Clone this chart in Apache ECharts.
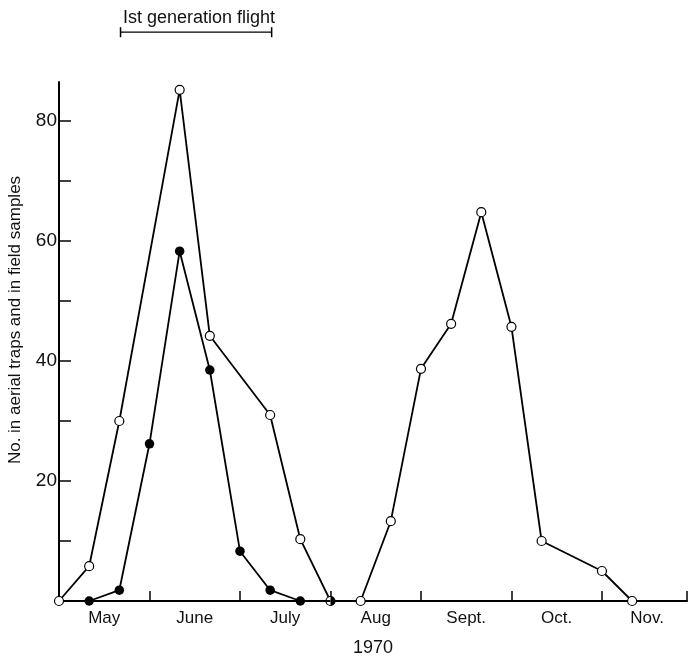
<!DOCTYPE html>
<html>
<head>
<meta charset="utf-8">
<script src="https://cdn.jsdelivr.net/npm/echarts@6/dist/echarts.min.js"></script>
<style>
html,body{margin:0;padding:0;background:#fff;}
#chart{width:688px;height:656px;}
</style>
</head>
<body>
<div id="chart"></div>
<script>
// x positions are in thirds of a month (10-day periods) counted from 1 May 1970
const monthLabels = ['May', 'June', 'July', 'Aug', 'Sept.', 'Oct.', 'Nov.'];
const aerialPeriods = [0, 1, 2, 4, 5, 7, 8, 9, 10, 11, 12, 13, 14, 15, 16, 18, 19];
const aerialValues  = [0, 5.8, 30, 85.2, 44.2, 31, 10.3, 0, 0, 13.3, 38.7, 46.2, 64.8, 45.7, 10, 5, 0];
const fieldPeriods  = [1, 2, 3, 4, 5, 6, 7, 8, 9];
const fieldValues   = [0, 1.8, 26.2, 58.3, 38.5, 8.3, 1.8, 0, 0];
const yTicks = [20, 40, 60, 80];
const flightSpan = [0.68, 2.35]; // months from 1 May
const flightLevel = 94.8;

const FONT = 'Liberation Sans';
const toMonths = p => p / 3;

const aerialData = aerialPeriods.map((p, i) => [toMonths(p), aerialValues[i]]);
const fieldData = fieldPeriods.map((p, i) => {
  const pt = [toMonths(p), fieldValues[i]];
  if (i === fieldPeriods.length - 1) {
    return {
      value: pt,
      symbol: 'path://M0,0 A10,10 0 0 1 0,20 Z',
      symbolSize: [4.6, 9.2],
      symbolOffset: [2.3, 0],
      itemStyle: { color: '#000', borderWidth: 0 }
    };
  }
  return pt;
});

const chart = echarts.init(document.getElementById('chart'), null, { renderer: 'canvas' });
chart.setOption({
  animation: false,
  backgroundColor: '#fff',
  title: {
    text: 'Ist generation flight',
    left: 118, top: 4,
    textStyle: { fontFamily: FONT, fontSize: 18, fontWeight: 'normal', color: '#111' }
  },
  graphic: [{
    type: 'text',
    x: 15, y: 320,
    rotation: Math.PI / 2,
    style: {
      text: 'No. in aerial traps and in field samples',
      fontFamily: FONT, fontSize: 17, fill: '#111',
      align: 'center', verticalAlign: 'middle'
    }
  }],
  grid: { left: 59, right: 1, top: 82, bottom: 55, outerBoundsMode: 'none', containLabel: false },
  xAxis: [{
    type: 'value', min: 0, max: 6.94, interval: 1,
    axisLine: { show: true, lineStyle: { color: '#000', width: 2 } },
    axisTick: { show: true, inside: true, length: 10, lineStyle: { color: '#000', width: 1.5 } },
    axisLabel: { show: false },
    splitLine: { show: false }
  }, {
    type: 'value', min: 0, max: 6.94, interval: 0.5, position: 'bottom',
    axisLine: { show: false }, axisTick: { show: false }, splitLine: { show: false },
    axisLabel: {
      margin: 9, fontFamily: FONT, fontSize: 17, color: '#111',
      showMaxLabel: false,
      formatter: v => {
        const r = v % 1;
        if (Math.abs(r - 0.5) < 0.01) return monthLabels[Math.floor(v)] || '';
        return '';
      }
    },
    name: '1970', nameLocation: 'middle', nameGap: 38,
    nameTextStyle: { fontFamily: FONT, fontSize: 18, color: '#111' }
  }],
  yAxis: {
    type: 'value', min: 0, max: 86.5, interval: 10,
    axisLine: { show: true, lineStyle: { color: '#000', width: 2 } },
    axisTick: { show: true, inside: true, length: 12, lineStyle: { color: '#000', width: 1.5 } },
    axisLabel: {
      margin: 2, fontFamily: FONT, fontSize: 19, color: '#111',
      showMaxLabel: false,
      formatter: v => yTicks.includes(v) ? String(v) : ''
    },
    splitLine: { show: false }
  },
  series: [{
    name: 'Aerial traps', type: 'line', data: aerialData,
    symbol: 'circle', symbolSize: 9, showAllSymbol: true,
    lineStyle: { color: '#000', width: 1.8 },
    itemStyle: { color: '#fff', borderColor: '#000', borderWidth: 1.2 },
    z: 3
  }, {
    name: 'Field samples', type: 'line', data: fieldData,
    symbol: 'circle', symbolSize: 9.5, showAllSymbol: true,
    lineStyle: { color: '#000', width: 1.8 },
    itemStyle: { color: '#000', borderColor: '#000', borderWidth: 0 },
    z: 4
  }, {
    name: 'flight', type: 'line', clip: false,
    data: [[flightSpan[0], flightLevel], [flightSpan[1], flightLevel]],
    symbol: 'rect', symbolSize: [1.5, 10], showAllSymbol: true,
    lineStyle: { color: '#000', width: 1.3 },
    itemStyle: { color: '#000' },
    silent: true, z: 2
  }]
});
</script>
</body>
</html>
